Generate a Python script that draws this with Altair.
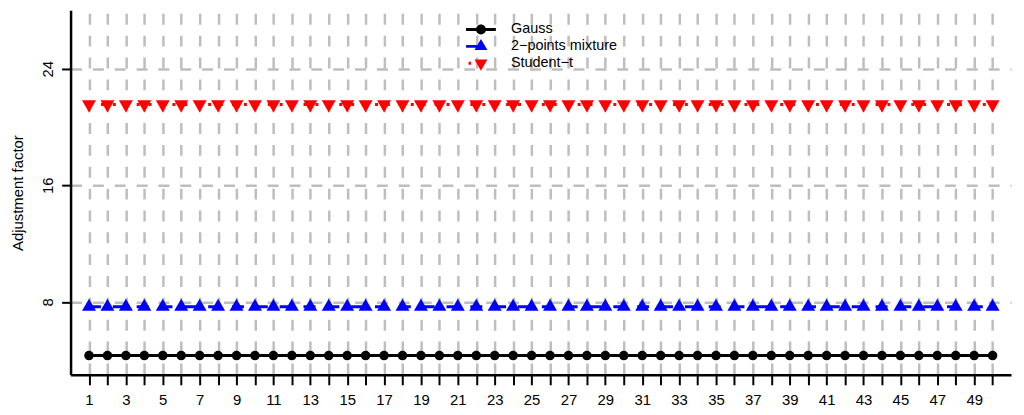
import altair as alt
import pandas as pd

# ---- data ----
index = [1, 2, 3, 4, 5, 6, 7, 8, 9, 10,
         11, 12, 13, 14, 15, 16, 17, 18, 19, 20,
         21, 22, 23, 24, 25, 26, 27, 28, 29, 30,
         31, 32, 33, 34, 35, 36, 37, 38, 39, 40,
         41, 42, 43, 44, 45, 46, 47, 48, 49, 50]

gauss = [4.32, 4.32, 4.32, 4.32, 4.32, 4.32, 4.32, 4.32, 4.32, 4.32,
         4.32, 4.32, 4.32, 4.32, 4.32, 4.32, 4.32, 4.32, 4.32, 4.32,
         4.32, 4.32, 4.32, 4.32, 4.32, 4.32, 4.32, 4.32, 4.32, 4.32,
         4.32, 4.32, 4.32, 4.32, 4.32, 4.32, 4.32, 4.32, 4.32, 4.32,
         4.32, 4.32, 4.32, 4.32, 4.32, 4.32, 4.32, 4.32, 4.32, 4.32]

mixture = [7.67, 7.67, 7.67, 7.67, 7.67, 7.67, 7.67, 7.67, 7.67, 7.67,
           7.67, 7.67, 7.67, 7.67, 7.67, 7.67, 7.67, 7.67, 7.67, 7.67,
           7.67, 7.67, 7.67, 7.67, 7.67, 7.67, 7.67, 7.67, 7.67, 7.67,
           7.67, 7.67, 7.67, 7.67, 7.67, 7.67, 7.67, 7.67, 7.67, 7.67,
           7.67, 7.67, 7.67, 7.67, 7.67, 7.67, 7.67, 7.67, 7.67, 7.67]

student = [21.55, 21.55, 21.55, 21.55, 21.55, 21.55, 21.55, 21.55, 21.55, 21.55,
           21.55, 21.55, 21.55, 21.55, 21.55, 21.55, 21.55, 21.55, 21.55, 21.55,
           21.55, 21.55, 21.55, 21.55, 21.55, 21.55, 21.55, 21.55, 21.55, 21.55,
           21.55, 21.55, 21.55, 21.55, 21.55, 21.55, 21.55, 21.55, 21.55, 21.55,
           21.55, 21.55, 21.55, 21.55, 21.55, 21.55, 21.55, 21.55, 21.55, 21.55]

series_names = ["Gauss", "2\u2212points mixture", "Student\u2212t"]
series_colors = ["#000000", "#0000FF", "#FF0000"]
y_ticks = [8, 16, 24]
y_title = "Adjustment factor"

# ---- table ----
rows = []
for name, vals in zip(series_names, [gauss, mixture, student]):
    for i, v in zip(index, vals):
        rows.append({"i": i, "value": v, "series": name})
df = pd.DataFrame(rows)

# ---- styles ----
FONT = "Liberation Sans"
GRID = "#BEBEBE"
tri_up = "M0,-1L0.866,0.5L-0.866,0.5Z"
tri_down = "M0,1L0.866,-0.5L-0.866,-0.5Z"
point_shapes = ["circle", tri_up, tri_down]
point_sizes = [92, 265, 265]
dashes = [[1, 0], [12, 12], [3, 9]]

legend_shapes = [
    "M-3,-0.3H3V0.3H-3Z M-1,0A1,1 0 1,1 1,0A1,1 0 1,1 -1,0Z",
    "M-3,-0.3H-0.8V0.3H-3Z M0,-1.5L1.3,0.75L-1.3,0.75Z",
    "M-2.5,-0.3H-2V0.3H-2.5Z M0,1.5L1.3,-0.75L-1.3,-0.75Z",
]

color_scale = alt.Scale(domain=series_names, range=series_colors)

x_enc = alt.X(
    "i:Q",
    scale=alt.Scale(domain=[0, 51], nice=False, zero=False),
    axis=alt.Axis(
        values=index, title=None, grid=True, gridColor=GRID, gridWidth=2.5,
        gridDash=[11, 11], gridDashOffset=19,
        domainColor="black", domainWidth=2.5, tickColor="black", tickWidth=2,
        tickSize=10, labelFont=FONT, labelFontSize=15, labelColor="black",
        labelPadding=8, labelAngle=0, labelOverlap=False, labelFlush=False,
        labelExpr="datum.value % 2 == 1 ? datum.label : ''",
    ),
)
y_enc = alt.Y(
    "value:Q",
    scale=alt.Scale(domain=[3, 28], nice=False, zero=False),
    axis=alt.Axis(
        values=y_ticks, title=y_title, grid=True, gridColor=GRID, gridWidth=2.5,
        gridDash=[11, 11],
        domainColor="black", domainWidth=2.5, tickColor="black", tickWidth=2,
        tickSize=9, labelFont=FONT, labelFontSize=15, labelColor="black",
        labelAngle=270, labelAlign="center", labelBaseline="bottom",
        labelPadding=6, titleFont=FONT, titleFontSize=15,
        titleFontWeight="normal", titleColor="black", titlePadding=15,
    ),
)

base = alt.Chart(df).encode(x=x_enc, y=y_enc)

series_layers = []
for name, col, dash, shp, sz in zip(series_names, series_colors, dashes,
                                    point_shapes, point_sizes):
    sub = base.transform_filter(alt.datum.series == name)
    series_layers.append(
        sub.mark_line(color=col, strokeDash=dash, strokeWidth=3)
    )
    series_layers.append(
        sub.mark_point(filled=True, opacity=1, strokeWidth=0, shape=shp,
                       size=sz, color=col)
    )

leg = dict(
    orient="none", legendX=406, legendY=12, title=None, padding=0,
    labelFont=FONT, labelFontSize=14.5, labelColor="black", labelOffset=23,
    symbolSize=100, symbolStrokeWidth=0, symbolOffset=0, rowPadding=2,
)
legend_layer = (
    base.transform_filter("datum.i < 0")
    .mark_point(filled=True, opacity=1, strokeWidth=0, size=100)
    .encode(
        color=alt.Color("series:N", scale=color_scale, legend=alt.Legend(**leg)),
        shape=alt.Shape(
            "series:N",
            scale=alt.Scale(domain=series_names, range=legend_shapes),
            legend=alt.Legend(**leg),
        ),
    )
)

chart = (
    alt.layer(*series_layers, legend_layer)
    .properties(
        width=947, height=367,
        padding={"left": 63, "top": 1, "right": 5, "bottom": 31},
        autosize=alt.AutoSizeParams(type="none"),
        background="white",
    )
    .configure_view(stroke="transparent")
)

chart.save("out.html", embed_options={"renderer": "svg", "actions": False})
